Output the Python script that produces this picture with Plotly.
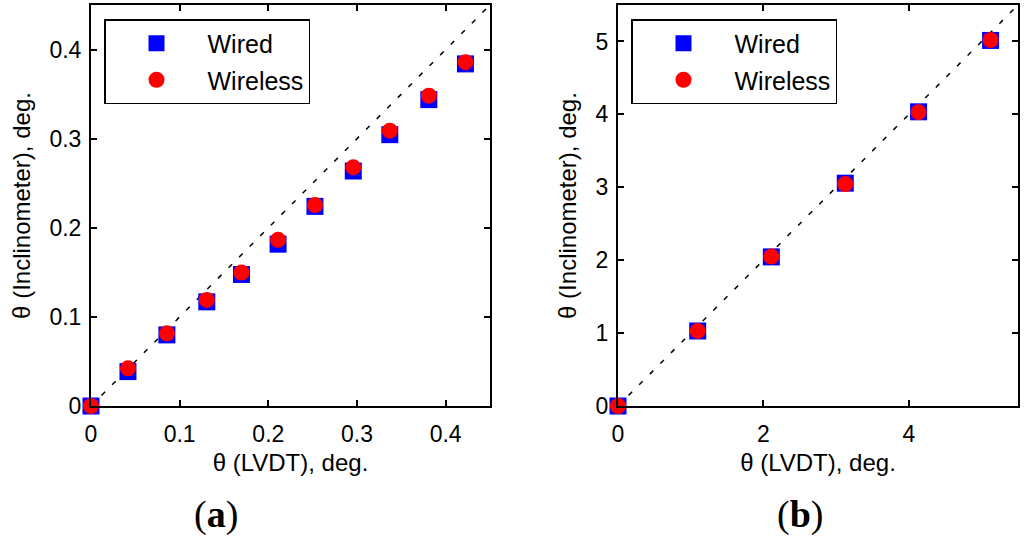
import plotly.graph_objects as go

# ---- data ----
# panel (a)
a_lvdt = [0.0, 0.0417, 0.0856, 0.1306, 0.1697, 0.2110, 0.2526, 0.2958, 0.3370, 0.3810, 0.4223]
a_wired = [0.0, 0.0386, 0.0798, 0.1169, 0.1476, 0.1816, 0.2240, 0.2637, 0.3045, 0.3438, 0.3839]
a_wireless = [0.0, 0.0423, 0.0816, 0.1190, 0.1498, 0.1865, 0.2255, 0.2678, 0.3090, 0.3483, 0.3858]
a_diag = [0.0, 0.45]
a_ticks = [0, 0.1, 0.2, 0.3, 0.4]
a_ticktext = ["0", "0.1", "0.2", "0.3", "0.4"]

# panel (b)
b_lvdt = [0.0, 1.096, 2.108, 3.125, 4.133, 5.123]
b_wired = [0.0, 1.029, 2.045, 3.056, 4.035, 5.014]
b_wireless = [0.0, 1.030, 2.050, 3.045, 4.030, 5.020]
b_diag = [0.0, 5.5]
b_xticks = [0, 2, 4]
b_yticks = [0, 1, 2, 3, 4, 5]

x_title = "θ (LVDT), deg."
y_title = "θ (Inclinometer), deg."
series_names = ["Wired", "Wireless"]
panel_labels = ["(<b>a</b>)", "(<b>b</b>)"]

FONT = "Liberation Sans, Arial, sans-serif"
W, H = 1024, 544

fig = go.Figure()

def add_panel(xv, wired, wireless, diag, xa, ya, leg):
    fig.add_trace(go.Scatter(x=diag, y=diag, mode="lines", xaxis=xa, yaxis=ya,
                             line=dict(color="black", width=1.5, dash="5px,10px"),
                             showlegend=False, hoverinfo="skip"))
    fig.add_trace(go.Scatter(x=xv, y=wired, mode="markers", name=series_names[0],
                             xaxis=xa, yaxis=ya, legend=leg, legendgroup="g1" + leg,
                             marker=dict(symbol="square", size=17, color="#0000ff",
                                         line=dict(width=0)), cliponaxis=False))
    fig.add_trace(go.Scatter(x=xv, y=wireless, mode="markers", name=series_names[1],
                             xaxis=xa, yaxis=ya, legend=leg, legendgroup="g2" + leg,
                             marker=dict(symbol="circle", size=16, color="#ff0000",
                                         line=dict(width=0)), cliponaxis=False))

add_panel(a_lvdt, a_wired, a_wireless, a_diag, "x", "y", "legend")
add_panel(b_lvdt, b_wired, b_wireless, b_diag, "x2", "y2", "legend2")

def px_x(p):
    return p / W

def px_y(p):
    return 1 - p / H

top, bottom = 5, 406

def axis(**kw):
    d = dict(showline=True, linecolor="black", linewidth=2, mirror="ticks",
             ticks="inside", ticklen=6, tickwidth=1.5, tickcolor="black",
             showgrid=False, zeroline=False,
             tickfont=dict(family=FONT, size=23, color="black"))
    d.update(kw)
    return d

def ttl(text, standoff):
    return dict(text=text, standoff=standoff,
                font=dict(family=FONT, size=24, color="black"))

def legend_box(x):
    return dict(x=px_x(x), y=px_y(19), xanchor="left", yanchor="top",
                bgcolor="white", bordercolor="black", borderwidth=1.5,
                font=dict(family=FONT, size=25, color="black"),
                itemwidth=92, tracegroupgap=1, traceorder="grouped")

fig.update_layout(
    width=W, height=H, template="none",
    paper_bgcolor="white", plot_bgcolor="white",
    margin=dict(l=0, r=0, t=0, b=0),
    xaxis=axis(domain=[px_x(91), px_x(490)], range=[0, 0.45], anchor="y",
               tickvals=a_ticks, ticktext=a_ticktext, ticklabelstandoff=6,
               title=ttl(x_title, 9)),
    yaxis=axis(domain=[px_y(bottom), px_y(top)], range=[0, 0.45], anchor="x",
               tickvals=a_ticks, ticktext=a_ticktext, ticklabelstandoff=3,
               title=ttl(y_title, 12)),
    xaxis2=axis(domain=[px_x(618), px_x(1018)], range=[0, 5.5], anchor="y2",
                tickvals=b_xticks, ticklabelstandoff=6,
                title=ttl(x_title, 9)),
    yaxis2=axis(domain=[px_y(bottom), px_y(top)], range=[0, 5.5], anchor="x2",
                tickvals=b_yticks, ticklabelstandoff=3,
                title=ttl(y_title, 12)),
    legend=legend_box(104),
    legend2=legend_box(631),
)

for label, cx in zip(panel_labels, [216, 800]):
    fig.add_annotation(text=label, x=px_x(cx), y=px_y(514), xref="paper", yref="paper",
                       xanchor="center", yanchor="middle", showarrow=False,
                       font=dict(family="Liberation Serif, Times New Roman, serif",
                                 size=38, color="black"))

fig.write_html("out.html", config={"displayModeBar": False},
               post_script="document.body.style.margin='0';")
